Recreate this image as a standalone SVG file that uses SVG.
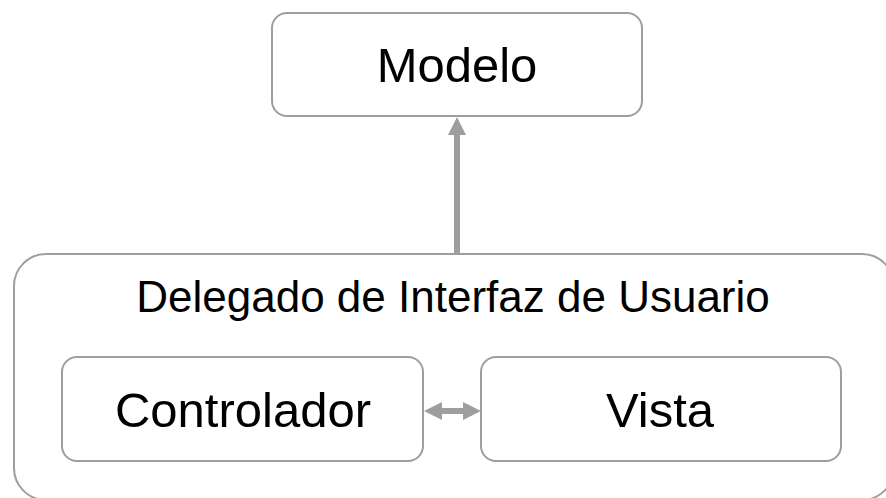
<svg xmlns="http://www.w3.org/2000/svg" width="886" height="498" viewBox="0 0 886 498">
<style>
.box{fill:#ffffff;stroke:#9e9e9e;stroke-width:2}
.lbl{font-family:"Liberation Sans",Arial,sans-serif;fill:#000000;text-anchor:middle}
.conn{stroke:#9e9e9e;stroke-width:6;fill:none}
.head{fill:#9e9e9e}
</style>
<rect width="886" height="498" fill="#ffffff"/>
<g id="delegado">
<rect class="box" x="14" y="254" width="880" height="246" rx="32" ry="32"/>
<text class="lbl" x="453" y="312" font-size="44">Delegado de Interfaz de Usuario</text>
</g>
<g id="modelo">
<rect class="box" x="272" y="13" width="370" height="103" rx="15" ry="15"/>
<text class="lbl" x="457" y="82" font-size="49">Modelo</text>
</g>
<g id="controlador">
<rect class="box" x="62" y="357" width="361" height="104" rx="15" ry="15"/>
<text class="lbl" x="243" y="427" font-size="49">Controlador</text>
</g>
<g id="vista">
<rect class="box" x="481" y="357" width="360" height="104" rx="15" ry="15"/>
<text class="lbl" x="660" y="427" font-size="49">Vista</text>
</g>
<g id="connectors">
<line class="conn" x1="457" y1="253" x2="457" y2="133"/>
<polygon class="head" points="457,117 448,135 466,135"/>
<line class="conn" x1="440" y1="411" x2="465" y2="411"/>
<polygon class="head" points="424,411 442,402 442,420"/>
<polygon class="head" points="481,411 463,402 463,420"/>
</g>
</svg>
